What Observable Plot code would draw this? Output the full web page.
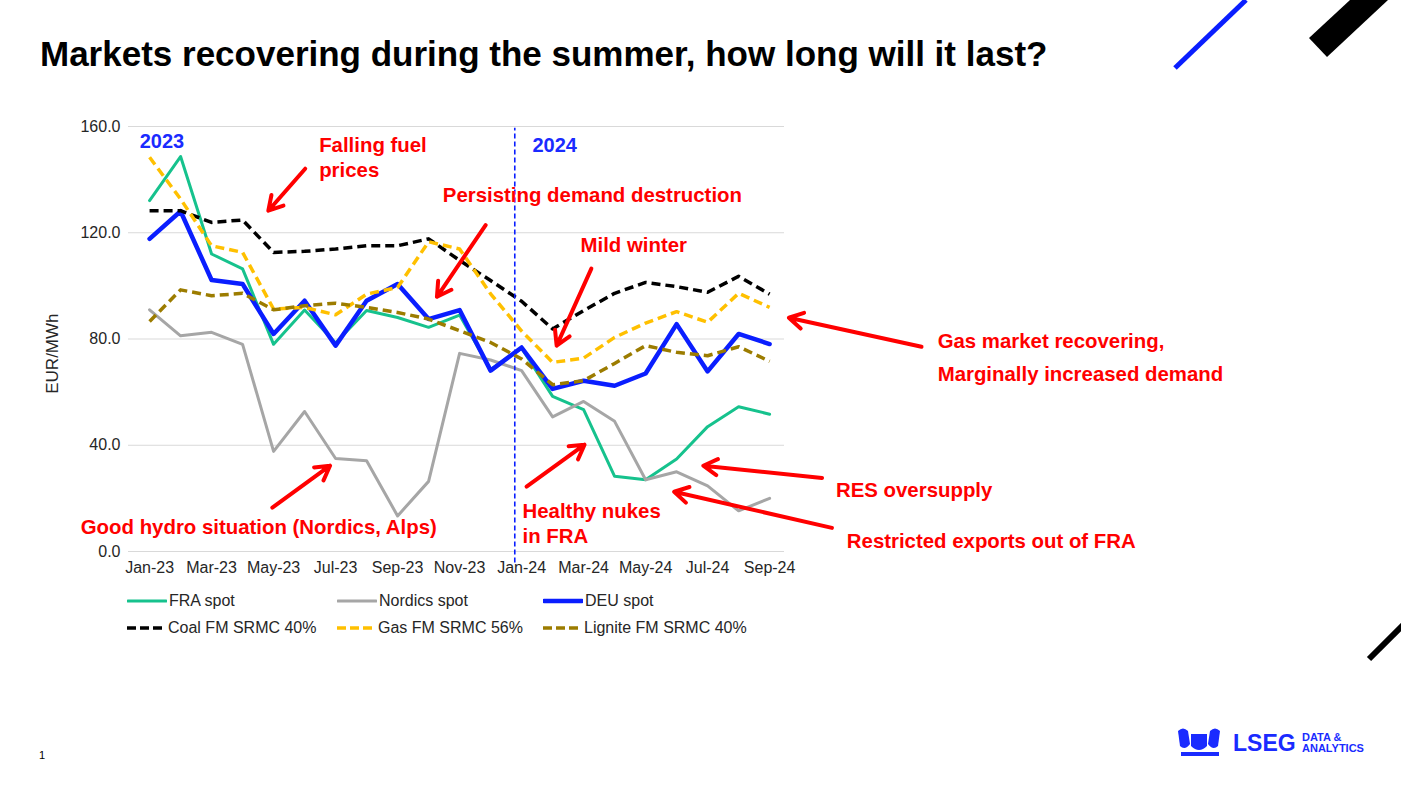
<!DOCTYPE html>
<html>
<head>
<meta charset="utf-8">
<script src="https://cdn.jsdelivr.net/npm/d3@7"></script>
<script src="https://cdn.jsdelivr.net/npm/@observablehq/plot@0.6"></script>
<style>
  html, body { margin: 0; padding: 0; background: #fff; }
  body { width: 1401px; height: 788px; overflow: hidden; font-family: "Liberation Sans", Arial, sans-serif; }
  #wrap { position: relative; width: 1401px; height: 788px; }
  #title { position: absolute; left: 40px; top: 36px; font-size: 35px; font-weight: bold; color: #000; line-height: 1; white-space: nowrap; }
  #chart { position: absolute; left: 0; top: 0; }
  #deco { position: absolute; left: 0; top: 0; }
  .leg { position: absolute; font-size: 16px; color: #262626; line-height: 1; white-space: nowrap; display: flex; align-items: center; }
  .leg svg { margin-right: 2px; }
  #pagenum { position: absolute; left: 39px; top: 749px; font-size: 11px; color: #000; }
</style>
</head>
<body>
<div id="wrap">
  <svg id="deco" width="1401" height="788">
    <line x1="1175" y1="68" x2="1246" y2="0" stroke="#0a1eff" stroke-width="5"/>
    <polygon points="1309,38 1350,0 1388,0 1327,57" fill="#000"/>
    <line x1="1369" y1="659" x2="1403" y2="625" stroke="#000" stroke-width="6"/>
    <g fill="#1a2bff">
      <path d="M1178,731 q5,-5 10,0 l2,13 q-5,7 -10,2 z"/>
      <path d="M1210,731 q5,-5 10,0 l-2,15 q-5,5 -10,-2 z"/>
      <path d="M1191,734 h16 v12 q-8,8 -16,0 z"/>
      <rect x="1181" y="752" width="38" height="4"/>
      <text x="1233" y="751" font-size="23" font-weight="bold" font-family="Liberation Sans, Arial, sans-serif">LSEG</text>
      <text x="1302" y="741" font-size="11" font-weight="bold" font-family="Liberation Sans, Arial, sans-serif">DATA &amp;</text>
      <text x="1302" y="752" font-size="11" font-weight="bold" font-family="Liberation Sans, Arial, sans-serif">ANALYTICS</text>
    </g>
  </svg>
  <div id="title">Markets recovering during the summer, how long will it last?</div>
  <div id="chart"></div>
  <div id="legend"></div>
  <div id="pagenum">1</div>
</div>
<script>
// ---- data ----
const months = ["Jan-23","Feb-23","Mar-23","Apr-23","May-23","Jun-23","Jul-23","Aug-23","Sep-23","Oct-23","Nov-23","Dec-23",
                "Jan-24","Feb-24","Mar-24","Apr-24","May-24","Jun-24","Jul-24","Aug-24","Sep-24"];
const fraSpot     = [132.1,148.7,112.0,106.4,78.0,90.9,78.5,90.7,88.1,84.4,89.0,68.5,76.5,58.4,53.4,28.3,27.0,34.8,47.0,54.5,51.7];
const nordicsSpot = [91.0,81.2,82.5,78.0,37.7,52.7,35.0,34.2,13.4,26.4,74.6,72.1,68.1,50.7,56.5,49.0,27.0,30.0,24.7,15.3,20.0];
const deuSpot     = [117.7,128.1,102.2,100.7,81.9,94.4,77.5,94.4,100.7,87.5,90.9,68.1,76.8,61.2,64.3,62.4,67.0,85.6,67.8,81.9,78.1];
const coalSrmc    = [128.3,128.3,123.9,124.8,112.6,113.0,113.9,115.1,115.1,117.7,109.6,102.0,94.2,83.8,90.7,97.2,101.3,99.7,97.6,103.6,96.9];
const gasSrmc     = [148.4,132.7,115.1,112.6,91.3,91.9,89.1,96.9,99.4,116.6,113.9,97.0,83.0,71.2,72.8,80.6,86.0,90.3,86.3,97.2,91.9];
const ligniteSrmc = [86.6,98.5,96.3,97.2,91.0,92.5,93.5,91.9,90.0,87.5,83.1,78.7,72.5,62.8,64.3,70.8,77.5,75.0,73.7,77.1,71.6];

const seriesNames = ["FRA spot","Nordics spot","DEU spot","Coal FM SRMC 40%","Gas FM SRMC 56%","Lignite FM SRMC 40%"];
const seriesValues = [fraSpot, nordicsSpot, deuSpot, coalSrmc, gasSrmc, ligniteSrmc];
const seriesColors = ["#16c28d","#a6a6a6","#0a1eff","#000000","#ffc000","#9c7c00"];
const seriesWidths = [3, 3, 4.5, 3.5, 3.5, 3.5];
const seriesDashed = [false, false, false, true, true, true];

const yTicks = [0, 40, 80, 120, 160];
const xTickIdx = [0,2,4,6,8,10,12,14,16,18,20];
const yearDivider = [11.78];
const yearLabels = [{text:"2023", x:-0.32, y:154.3}, {text:"2024", x:12.35, y:152.8}];
const yAxisTitle = [{text:"EUR/MWh", x:-3.12, y:74.5}];

// annotations in data coordinates (month index, EUR/MWh)
const notes = [
  {text:"Falling fuel", x:5.47, y:152.8},
  {text:"prices", x:5.47, y:143.4},
  {text:"Persisting demand destruction", x:9.46, y:133.9},
  {text:"Mild winter", x:13.90, y:115.1},
  {text:"Gas market recovering,", x:25.42, y:79.0},
  {text:"Marginally increased demand", x:25.42, y:66.6},
  {text:"RES oversupply", x:22.14, y:22.9},
  {text:"Restricted exports out of FRA", x:22.49, y:3.7},
  {text:"Good hydro situation (Nordics, Alps)", x:-2.22, y:8.9},
  {text:"Healthy nukes", x:12.03, y:14.9},
  {text:"in FRA", x:12.03, y:5.5}
];
const noteArrows = [
  {x1:5.02, y1:144.1, x2:3.83, y2:128.3},
  {x1:10.84, y1:122.9, x2:9.27, y2:95.9},
  {x1:14.25, y1:106.5, x2:13.13, y2:77.5},
  {x1:24.90, y1:77.1, x2:20.62, y2:88.0},
  {x1:21.69, y1:27.7, x2:17.86, y2:32.3},
  {x1:22.01, y1:8.9, x2:16.92, y2:22.5},
  {x1:3.96, y1:16.5, x2:5.82, y2:32.3},
  {x1:12.16, y1:24.4, x2:14.03, y2:40.2}
];

// ---- build table ----
const rows = [];
seriesNames.forEach((name, s) => {
  seriesValues[s].forEach((v, i) => rows.push({series: name, idx: i, value: v}));
});

const font = "'Liberation Sans', Arial, sans-serif";
const lineMarks = seriesNames.map((name, s) =>
  Plot.line(rows.filter(r => r.series === name), {
    x: "idx", y: "value",
    stroke: seriesColors[s], strokeWidth: seriesWidths[s],
    strokeDasharray: seriesDashed[s] ? "9,5" : null,
    strokeLinejoin: "round", strokeLinecap: seriesDashed[s] ? "butt" : "round"
  })
);

const chart = Plot.plot({
  width: 1401, height: 788,
  marginLeft: 128, marginRight: 617, marginTop: 126, marginBottom: 237,
  style: {fontFamily: font, fontSize: "16px", color: "#262626", background: "transparent", overflow: "visible"},
  x: {domain: [-0.68, 20.48]},
  y: {domain: [0, 160]},
  marks: [
    Plot.ruleY(yTicks, {stroke: "#d9d9d9", strokeWidth: 1}),
    Plot.axisY({ticks: yTicks, tickFormat: d3.format(".1f"), tickSize: 0, tickPadding: 8, label: null, fontSize: 16, fill: "#262626"}),
    Plot.axisX({ticks: xTickIdx, tickFormat: i => months[i], tickSize: 0, tickPadding: 10, label: null, fontSize: 16, fill: "#262626"}),
    Plot.text(yAxisTitle, {x: "x", y: "y", text: "text", rotate: -90, fontSize: 17, fill: "#262626"}),
    ...lineMarks,
    Plot.ruleX(yearDivider, {y1: -4.3, y2: 159.3, stroke: "#0a1eff", strokeWidth: 1.6, strokeDasharray: "5,3"}),
    Plot.text(yearLabels, {x: "x", y: "y", text: "text", textAnchor: "start", fill: "#1a2bff", fontWeight: "bold", fontSize: 20}),
    Plot.arrow(noteArrows, {x1: "x1", y1: "y1", x2: "x2", y2: "y2", stroke: "#ff0000", strokeWidth: 4, headLength: 6, headAngle: 60}),
    Plot.text(notes, {x: "x", y: "y", text: "text", textAnchor: "start", fill: "#ff0000", fontWeight: "bold", fontSize: 20.4})
  ]
});
document.getElementById("chart").appendChild(chart);

// ---- legend ----
const legendPos = [
  {left:127, top:601}, {left:337, top:601}, {left:543, top:601},
  {left:127, top:628}, {left:337, top:628}, {left:543, top:628}
];
const legend = document.getElementById("legend");
seriesNames.forEach((name, s) => {
  const d = document.createElement("div");
  d.className = "leg";
  d.style.left = legendPos[s].left + "px";
  d.style.top = (legendPos[s].top - 9) + "px";
  const w = seriesDashed[s] ? 35 : 39;
  const sw = seriesDashed[s]
    ? `<svg width="${w+4}" height="18"><line x1="0" y1="9" x2="${w}" y2="9" stroke="${seriesColors[s]}" stroke-width="3.5" stroke-dasharray="9,4"/></svg>`
    : `<svg width="${w+1}" height="18"><line x1="1" y1="9" x2="${w}" y2="9" stroke="${seriesColors[s]}" stroke-width="${seriesWidths[s]}" stroke-linecap="round"/></svg>`;
  d.innerHTML = sw + `<span>${name}</span>`;
  legend.appendChild(d);
});
</script>
</body>
</html>
